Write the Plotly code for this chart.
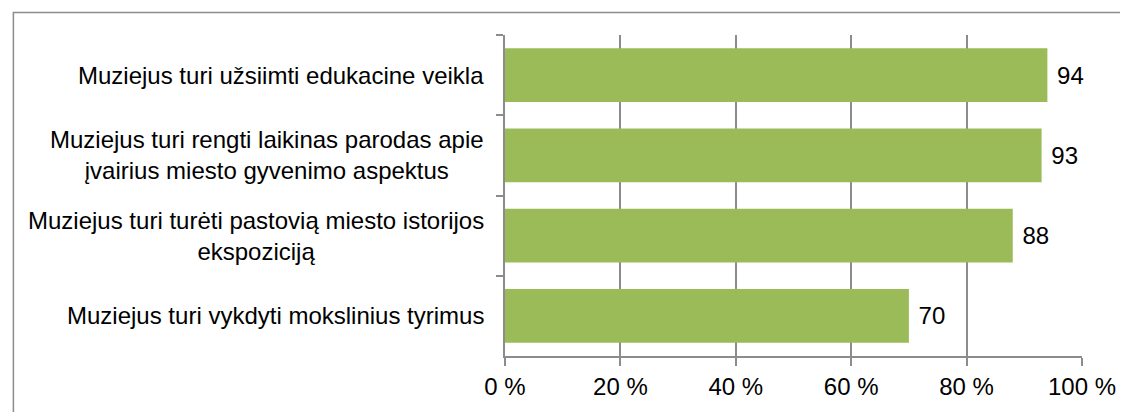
import plotly.graph_objects as go

# data
categories = [
    "Muziejus turi užsiimti edukacine veikla",
    "Muziejus turi rengti laikinas parodas apie<br>įvairius miesto gyvenimo aspektus",
    "Muziejus turi turėti pastovią miesto istorijos<br>ekspoziciją",
    "Muziejus turi vykdyti mokslinius tyrimus",
]
values = [94, 93, 88, 70]
tick_vals = [0, 20, 40, 60, 80, 100]
tick_text = ["0 %", "20 %", "40 %", "60 %", "80 %", "100 %"]

font = "Liberation Sans, Arial, sans-serif"
grid = "#8c8c8c"
fsize = 24

fig = go.Figure()
fig.add_trace(go.Bar(
    x=values, y=categories, orientation="h",
    marker=dict(color="#9bbb59", line=dict(width=0)),
    text=values, texttemplate=" %{x}", textposition="outside",
    textfont=dict(size=fsize, color="black", family=font),
    cliponaxis=False,
))

# category labels as annotations so multi-line text is centred
for c in categories:
    fig.add_annotation(x=0, xref="paper", y=c, yref="y", text=c,
                       showarrow=False, xanchor="right", align="center",
                       xshift=-19, font=dict(size=fsize, color="black", family=font))

# outer frame
fig.add_shape(type="rect", xref="paper", yref="paper",
              x0=-0.852, x1=1.1, y0=-0.3, y1=1.07,
              line=dict(color="#8c8c8c", width=1.5))

# page body has an 8px margin, so the figure is 8px smaller
fig.update_layout(
    width=1120, height=404,
    margin=dict(l=497, r=41, t=27, b=50),
    paper_bgcolor="white", plot_bgcolor="white",
    bargap=0.33, showlegend=False,
    font=dict(family=font, size=fsize, color="black"),
)
fig.update_xaxes(range=[0, 100], tickvals=tick_vals, ticktext=tick_text,
                 showgrid=True, gridcolor=grid, gridwidth=1.5,
                 showline=True, linecolor=grid, linewidth=1.5,
                 ticks="outside", ticklen=8, tickcolor=grid, tickwidth=1.5,
                 zeroline=False, tickfont=dict(size=fsize))
fig.update_yaxes(autorange="reversed", showticklabels=False,
                 showline=True, linecolor=grid, linewidth=1.5,
                 ticks="outside", ticklen=7, tickcolor=grid, tickwidth=1.5,
                 tickson="boundaries", showgrid=False)

fig.write_html("out.html")
